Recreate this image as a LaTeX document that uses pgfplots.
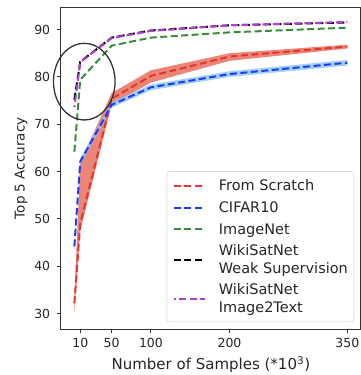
\documentclass[border=0pt]{standalone}
\usepackage{pgfplots}
\pgfplotsset{compat=1.18}
\usepackage{fontspec}
\setmainfont{DejaVu Sans}
\definecolor{cred}{HTML}{E8352C}
\definecolor{cblue}{HTML}{1A3CF5}
\definecolor{cgreen}{HTML}{3A8C3A}
\definecolor{cpurple}{HTML}{B040D0}
\definecolor{bandred}{HTML}{E8705F}
\definecolor{bandblue}{HTML}{8CC6F2}
\definecolor{axgray}{HTML}{333333}
\definecolor{txt}{HTML}{262626}
\definecolor{leggray}{HTML}{CCCCCC}
\newcommand{\ls}{\rule[-3.5pt]{0pt}{14.5pt}}
\begin{document}
\begin{tikzpicture}
\begin{axis}[
  scale only axis, width=300.3pt, height=322pt,
  xmin=-14.9, xmax=367.4, ymin=26.7, ymax=94.7,
  xtick={10,50,100,200,350}, ytick={30,40,50,60,70,80,90},
  tick align=outside, xtick pos=left, ytick pos=left,
  major tick length=4pt,
  tick style={color=axgray, line width=1pt},
  axis line style={color=axgray, line width=1.2pt},
  ticklabel style={font=\fontsize{12.5}{15}\selectfont, color=txt},
  xticklabel style={yshift=-1pt},
  yticklabel style={xshift=-3pt},
  /pgf/number format/assume math mode=true,
  xlabel={Number of Samples (*10\textsuperscript{3})},
  ylabel={Top 5 Accuracy},
  xlabel style={font=\fontsize{15}{18}\selectfont, color=txt, yshift=-2.5pt},
  ylabel style={font=\fontsize{13.5}{16}\selectfont, color=txt},
  legend style={at={(0.977,0.0227)}, anchor=south east, draw=leggray, rounded corners=3pt,
    fill=white, font=\fontsize{14.5}{17.3}\selectfont, text=txt,
    cells={align=left, anchor=west}, nodes={inner sep=0pt},
    row sep=9.3pt, column sep=13pt, inner xsep=6pt, inner ysep=8pt},
  legend image code/.code={\draw[#1] (0pt,0pt) -- (31pt,0pt);},
  every axis plot/.append style={line width=2pt, dash pattern=on 7pt off 3.5pt},
]
\addplot[draw=none, fill=bandred, fill opacity=0.85, forget plot] coordinates {
(2.5,33.5)(10,62.0)(50,76.6)(100,81.4)(200,85.0)(350,86.8)
(350,86.0)(200,83.4)(100,78.8)(50,74.2)(10,47.5)(2.5,30.0)} --cycle;
\addplot[draw=none, fill=bandblue, fill opacity=0.8, forget plot] coordinates {
(2.5,44.8)(10,62.8)(50,74.7)(100,78.4)(200,81.2)(350,83.6)
(350,82.4)(200,80.0)(100,77.2)(50,73.5)(10,61.4)(2.5,43.6)} --cycle;
\addplot[cred] coordinates {(2.5,32.2)(10,49.0)(50,75.4)(100,80.2)(200,84.3)(350,86.4)};
\addlegendentry{\ls From Scratch}
\addplot[cblue] coordinates {(2.5,44.2)(10,62.1)(50,74.1)(100,77.8)(200,80.6)(350,83.0)};
\addlegendentry{\ls CIFAR10}
\addplot[cgreen] coordinates {(2.5,64.2)(10,79.4)(50,86.6)(100,88.3)(200,89.4)(350,90.4)};
\addlegendentry{\ls ImageNet}
\addplot[black] coordinates {(2.5,75.2)(10,83.2)(50,88.3)(100,89.8)(200,90.9)(350,91.5)};
\addlegendentry{\ls WikiSatNet\\\ls Weak Supervision}
\addplot[cpurple, dash phase=5pt] coordinates {(2.5,73.6)(10,83.1)(50,88.2)(100,89.7)(200,90.9)(350,91.6)};
\addlegendentry{\ls WikiSatNet\\\ls Image2Text}
\coordinate (sw) at (rel axis cs:0,0);
\coordinate (ne) at (rel axis cs:1,1);
\coordinate (ec) at (axis cs:15.1,79.0);
\end{axis}
\draw[axgray, line width=1.3pt] (ec) ellipse [x radius=30.8pt, y radius=38.3pt];
\pgfresetboundingbox
\path[use as bounding box] ([xshift=-60.7pt,yshift=-45.7pt]sw) rectangle ([yshift=7.3pt]ne);
\end{tikzpicture}
\end{document}
